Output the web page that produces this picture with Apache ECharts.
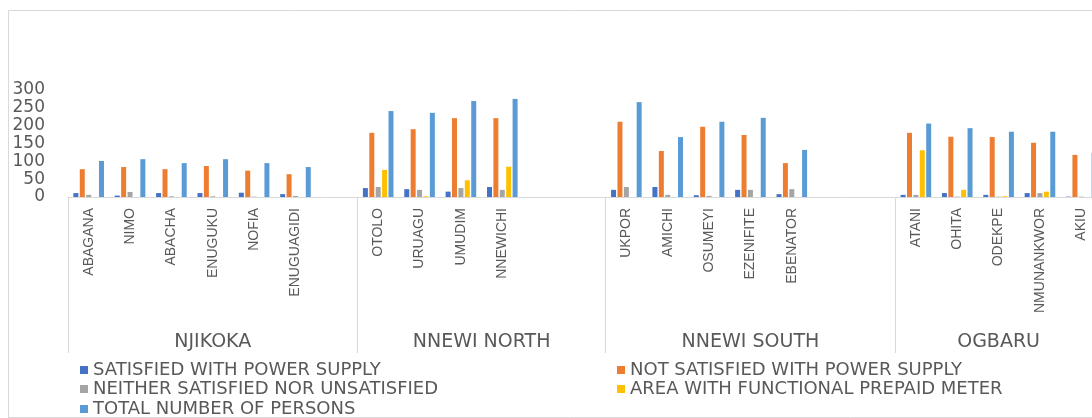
<!DOCTYPE html>
<html>
<head>
<meta charset="utf-8">
<script src="https://cdn.jsdelivr.net/npm/echarts@6/dist/echarts.min.js"></script>
<style>
  html, body { margin: 0; padding: 0; background: #fff; overflow: hidden; }
  #chart { width: 1130px; height: 418px; }
</style>
</head>
<body>
<div id="chart"></div>
<script>
// category slots per district (blank slots as in the source sheet)
const groups = ["NJIKOKA", "NNEWI NORTH", "NNEWI SOUTH", "OGBARU"];
const villages = [
  ["ABAGANA", "NIMO", "ABACHA", "ENUGUKU", "NOFIA", "ENUGUAGIDI", ""],
  ["OTOLO", "URUAGU", "UMUDIM", "NNEWICHI", "", ""],
  ["UKPOR", "AMICHI", "OSUMEYI", "EZENIFITE", "EBENATOR", "", ""],
  ["ATANI", "OHITA", "ODEKPE", "NMUNANKWOR", "AKIU"],
];

const satisfied    = [11, 4, 11, 11, 12, 8, null,   25, 22, 15, 28, null, null,   20, 28, 5, 20, 8, null, null,   6, 11, 6, 11, 1];
const notSatisfied = [78, 84, 78, 87, 74, 64, null,  180, 190, 221, 221, null, null, 211, 129, 197, 174, 95, null, null, 180, 169, 168, 152, 118];
const neither      = [6, 14, 2, 2, 1, 3, null,       28, 20, 25, 20, null, null,   28, 6, 3, 20, 22, null, null,   6, 1, 1, 11, 1];
const prepaid      = [0, 0, 0, 0, 0, 0, null,        76, 2, 47, 85, null, null,    0, 0, 0, 0, 0, null, null,      131, 20, 2, 15, 0];
const totalPersons = [101, 106, 95, 106, 95, 84, null, 241, 236, 269, 275, null, null, 266, 168, 211, 222, 132, null, null, 206, 193, 183, 183, 124];

const seriesNames = [
  "SATISFIED WITH POWER SUPPLY",
  "NOT SATISFIED WITH POWER SUPPLY",
  "NEITHER SATISFIED NOR UNSATISFIED",
  "AREA WITH FUNCTIONAL PREPAID METER",
  "TOTAL NUMBER OF PERSONS",
];
const seriesValues = [satisfied, notSatisfied, neither, prepaid, totalPersons];
const colors = ["#4472C4", "#ED7D31", "#A5A5A5", "#FFC000", "#5B9BD5"];

// flat category list (unique keys, label = village name)
const categories = [];
villages.forEach((list, g) => list.forEach((v, i) => categories.push(g + "|" + i + "|" + v)));

// group boundaries and centres in slot units
const bounds = [0];
villages.forEach((list) => bounds.push(bounds[bounds.length - 1] + list.length));
const centres = groups.map((_, g) => (bounds[g] + bounds[g + 1]) / 2);
const slotCount = bounds[bounds.length - 1];

const grey = "#595959";
const lineGrey = "#D9D9D9";
const font = "DejaVu Sans";

// legend laid out like Excel: two columns, three rows
const legendSpots = [[75, 356], [612, 356], [75, 375], [612, 375], [75, 395]];

const chart = echarts.init(document.getElementById("chart"), null, { renderer: "canvas" });

chart.setOption({
  backgroundColor: "#fff",
  animation: false,
  graphic: [{
    type: "rect",
    left: 6, top: 8,
    shape: { width: 1200, height: 407 },
    style: { fill: "none", stroke: lineGrey, lineWidth: 1 },
    silent: true,
  }],
  grid: { left: 68, top: 90, width: 1034, height: 107 },
  legend: seriesNames.map((name, i) => ({
    left: legendSpots[i][0], top: legendSpots[i][1],
    itemWidth: 8, itemHeight: 8, icon: "rect",
    data: [name],
    textStyle: { color: grey, fontSize: 18, lineHeight: 18, fontFamily: font },
  })),
  xAxis: [
    {
      type: "category",
      data: categories,
      axisLine: { lineStyle: { color: lineGrey } },
      axisTick: { show: false },
      axisLabel: {
        interval: 0, rotate: 90, margin: 11,
        color: grey, fontSize: 14, fontFamily: "Liberation Sans",
        formatter: (v) => v.split("|")[2],
      },
    },
    {
      type: "value",
      min: 0, max: slotCount,
      position: "bottom",
      axisLine: { show: false },
      splitLine: { show: false },
      axisTick: {
        show: true, inside: false, length: 156,
        customValues: bounds,
        lineStyle: { color: lineGrey },
      },
      axisLabel: {
        margin: 136,
        customValues: centres,
        color: grey, fontSize: 19, fontFamily: font,
        formatter: (v) => groups[centres.indexOf(v)] || "",
      },
    },
  ],
  yAxis: {
    type: "value",
    min: 0, max: 300, interval: 50,
    axisLine: { show: false },
    axisTick: { show: false },
    splitLine: { show: false },
    axisLabel: { color: grey, fontSize: 17, margin: 23, fontFamily: font },
  },
  series: seriesNames.map((name, i) => ({
    name,
    type: "bar",
    xAxisIndex: 0,
    barWidth: 5,
    barGap: "28%",
    itemStyle: { color: colors[i] },
    data: seriesValues[i],
  })),
});
</script>
</body>
</html>
